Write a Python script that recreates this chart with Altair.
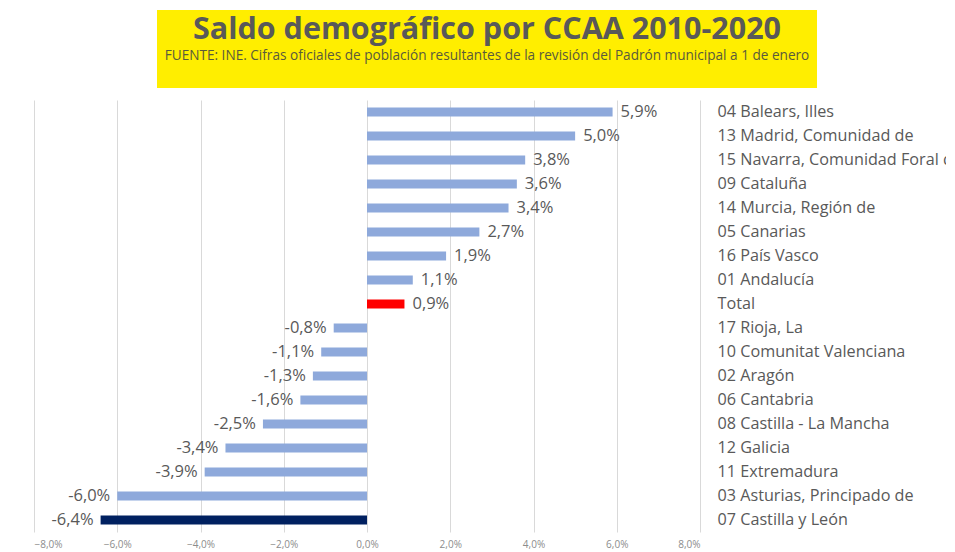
import altair as alt
import pandas as pd

title_text = "Saldo demográfico por CCAA 2010-2020"
subtitle_text = ("FUENTE: INE. Cifras oficiales de población resultantes de la revisión "
                 "del Padrón municipal a 1 de enero")
categories = [
    "04 Balears, Illes", "13 Madrid, Comunidad de", "15 Navarra, Comunidad Foral de",
    "09 Cataluña", "14 Murcia, Región de", "05 Canarias", "16 País Vasco",
    "01 Andalucía", "Total", "17 Rioja, La", "10 Comunitat Valenciana",
    "02 Aragón", "06 Cantabria", "08 Castilla - La Mancha", "12 Galicia",
    "11 Extremadura", "03 Asturias, Principado de", "07 Castilla y León",
]
values = [5.9, 5.0, 3.8, 3.6, 3.4, 2.7, 1.9, 1.1, 0.9, -0.8, -1.1, -1.3, -1.6,
          -2.5, -3.4, -3.9, -6.0, -6.4]
highlight = {"Total": "#FF0000", "07 Castilla y León": "#002060"}
x_ticks = [-0.08, -0.06, -0.04, -0.02, 0.0, 0.02, 0.04, 0.06, 0.08]

df = pd.DataFrame({
    "cat": categories,
    "val": [v / 100 for v in values],
})
df["label"] = [f"{v:.1f}%".replace(".", ",") for v in values]
df["color"] = [highlight.get(c, "#8EA9DB") for c in categories]
df["pos"] = [v >= 0 for v in values]

FONT = "Open Sans"
TXT = "#595959"

x = alt.X("val:Q", scale=alt.Scale(domain=[-0.08, 0.08], nice=False),
          axis=alt.Axis(values=x_ticks, title=None, grid=True, gridColor="#D9D9D9",
                        domain=False, ticks=False, labelFontSize=10, labelColor="#8C8C8C",
                        labelFont=FONT, labelPadding=7,
                        labelExpr="replace(format(datum.value, '.1%'), '.', ',')"))
y = alt.Y("cat:N", sort=categories, scale=alt.Scale(paddingInner=0.6, paddingOuter=0.3),
          axis=alt.Axis(orient="right", title=None, domain=False, ticks=False,
                        labelFontSize=16.2, labelColor=TXT, labelFont=FONT,
                        labelPadding=17, labelLimit=400, labelAlign="left"))

base = alt.Chart(df)
bars = base.mark_bar(size=9).encode(x=x, y=y, color=alt.Color("color:N", scale=None))
pos_text = base.transform_filter("datum.pos").mark_text(
    align="left", dx=8, fontSize=16.5, color=TXT, font=FONT
).encode(x="val:Q", y=alt.Y("cat:N", sort=categories), text="label:N")
neg_text = base.transform_filter("!datum.pos").mark_text(
    align="right", dx=-7, fontSize=16.5, color=TXT, font=FONT
).encode(x="val:Q", y=alt.Y("cat:N", sort=categories), text="label:N")

head = pd.DataFrame({"title": [title_text], "subtitle": [subtitle_text]})
box = alt.Chart(head).mark_rect(color="#FFEE00").encode(
    x=alt.value(123), x2=alt.value(783), y=alt.value(-90), y2=alt.value(-12)
)
title_mark = alt.Chart(head).mark_text(
    font=FONT, fontSize=30.5, fontWeight="bold", color="#595959", align="center",
    baseline="alphabetic"
).encode(x=alt.value(453), y=alt.value(-61), text="title:N")
subtitle_mark = alt.Chart(head).mark_text(
    font=FONT, fontSize=13.6, color="#5A5A3C", align="center", baseline="alphabetic"
).encode(x=alt.value(453), y=alt.value(-40), text="subtitle:N")

chart = alt.layer(box, title_mark, subtitle_mark, bars, pos_text, neg_text).properties(
    width=666, height=432,
    autosize=alt.AutoSizeParams(type="none"),
    padding={"left": 26, "top": 92, "right": 246, "bottom": 18},
).configure_view(stroke=None)

chart.save("out.html", embed_options={"renderer": "svg", "actions": False})
